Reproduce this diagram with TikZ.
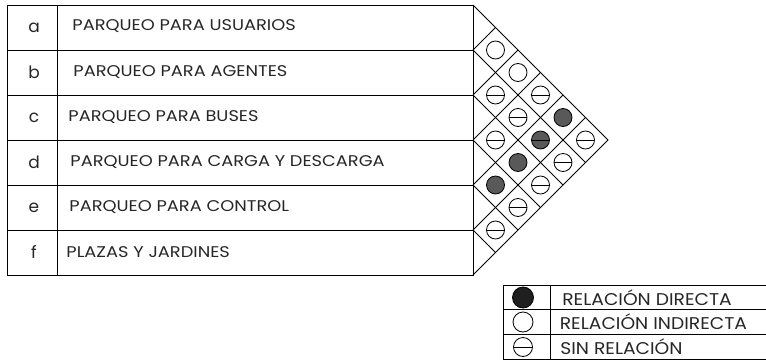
\documentclass[tikz,border=0pt]{standalone}
\usepackage{fontspec}
\setmainfont{Poppins}
\newfontfamily\usofont[FakeStretch=1.15]{Poppins}
\newfontfamily\leyendafont[FakeStretch=1.1]{Poppins}
\usetikzlibrary{positioning}

\begin{document}
\begin{tikzpicture}[x=1pt, y=-1pt, line width=0.9pt,
    letra/.style={font=\fontsize{17}{17}\selectfont, text=black!85},
    uso/.style={anchor=west, inner sep=0pt, font=\usofont\fontsize{15.5}{15.5}\selectfont, text=black!85},
    leyenda/.style={anchor=west, inner sep=0pt, font=\leyendafont\fontsize{17}{17}\selectfont, text=black!85},
    rel/.style={draw, circle, minimum size=18pt, inner sep=0pt, line width=0.8pt},
    directa/.style={rel, fill=black!65},
    indirecta/.style={rel, fill=white},
    sinrel/.style={rel, path picture={\draw[line width=0.8pt] (path picture bounding box.west) -- (path picture bounding box.east);}},
    directalinea/.style={directa, sinrel}]

    \useasboundingbox (0,0) rectangle (766,362);

    % Tabla de usos
    \draw (7,5) rectangle (473,275);
    \draw (57,5) -- (57,275);
    \foreach \y in {50,95,140,185,230}
        \draw (7,\y) -- (473,\y);

    \foreach \l [count=\i] in {a,...,f}
        \node (l\l) [letra] at (34, {5+45*(\i-0.5)}) {\l};

    \node (ua) [uso] at (72,26) {PARQUEO PARA USUARIOS};
    \node (ub) [uso] at (73,72) {PARQUEO PARA AGENTES};
    \node (uc) [uso] at (68,117) {PARQUEO PARA BUSES};
    \node (ud) [uso] at (70,162) {PARQUEO PARA CARGA Y DESCARGA};
    \node (ue) [uso] at (69,207) {PARQUEO PARA CONTROL};
    \node (uf) [uso] at (66,252) {PLAZAS Y JARDINES};

    % Matriz de relaciones
    \draw (473,5) -- (608,140) -- (473,275);
    \foreach \y in {50,95,140,185,230} {
        \draw (473,\y) -- ++({(\y-5)/2},{-(\y-5)/2});
        \draw (473,\y) -- ++({(275-\y)/2},{(275-\y)/2});
    }

    \foreach \i/\j/\t in {1/2/indirecta, 1/3/indirecta, 2/3/sinrel, 1/4/sinrel,
        2/4/sinrel, 1/5/directa, 3/4/sinrel, 2/5/directalinea, 1/6/sinrel,
        3/5/directa, 2/6/sinrel, 4/5/directa, 3/6/sinrel, 4/6/sinrel, 5/6/sinrel}
        \node (c\i\j) [\t] at ({473+22.5*(\j-\i)}, {5+22.5*(\i+\j-1)}) {};

    % Leyenda
    \draw (503,285) rectangle (768,359);
    \draw (550,285) -- (550,359);
    \draw (503,309.5) -- (768,309.5);
    \draw (503,334) -- (768,334);

    \node (kd) [directa, minimum size=21pt, fill=black!88] at (523,297.5) {};
    \node (ki) [indirecta, minimum size=20pt] at (523,322) {};
    \node (ks) [sinrel, minimum size=19pt] at (523,347) {};

    \node (td) [leyenda, right=28pt of kd] {RELACIÓN DIRECTA};
    \node (ti) [leyenda, right=26pt of ki] {RELACIÓN INDIRECTA};
    \node (ts) [leyenda, right=27pt of ks] {SIN RELACIÓN};
\end{tikzpicture}
\end{document}
